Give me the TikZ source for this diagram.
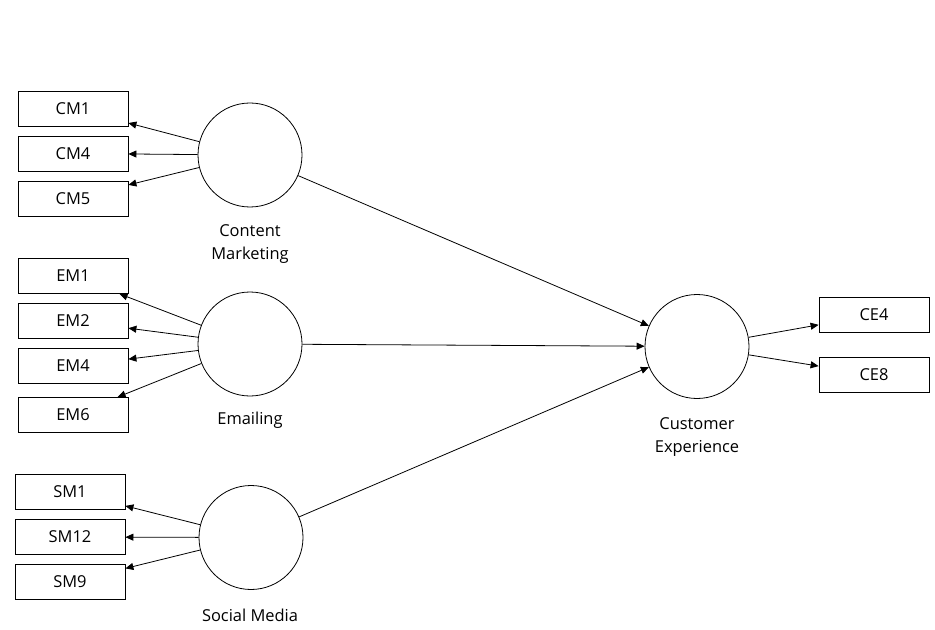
\documentclass[tikz,border=0pt]{standalone}
\usepackage{fontspec}
\setmainfont{Open Sans}
\usetikzlibrary{arrows.meta}

\begin{document}
\begin{tikzpicture}[x=1bp,y=-1bp]
\useasboundingbox (0,0) rectangle (935,630);
\begin{scope}[every node/.style={draw=black,fill=white,line width=0.8bp,font=\fontsize{16.5}{20}\selectfont}]
    \node (cm) at (250, 155) [shape=circle,minimum size=104bp,inner sep=0pt] {};
    \node (em) at (250, 344) [shape=circle,minimum size=104bp,inner sep=0pt] {};
    \node (sm) at (251, 537.5) [shape=circle,minimum size=104bp,inner sep=0pt] {};
    \node (ce) at (697, 346.5) [shape=circle,minimum size=104bp,inner sep=0pt] {};

    \node (cm1) at (73, 108.5) [shape=rectangle,minimum width=110bp,minimum height=35bp,inner sep=0pt] {CM1};
    \node (cm4) at (73, 153.5) [shape=rectangle,minimum width=110bp,minimum height=35bp,inner sep=0pt] {CM4};
    \node (cm5) at (73, 198.5) [shape=rectangle,minimum width=110bp,minimum height=35bp,inner sep=0pt] {CM5};

    \node (em1) at (73, 276) [shape=rectangle,minimum width=110bp,minimum height=35bp,inner sep=0pt] {EM1};
    \node (em2) at (73, 321) [shape=rectangle,minimum width=110bp,minimum height=35bp,inner sep=0pt] {EM2};
    \node (em4) at (73, 366) [shape=rectangle,minimum width=110bp,minimum height=35bp,inner sep=0pt] {EM4};
    \node (em6) at (73, 415) [shape=rectangle,minimum width=110bp,minimum height=35bp,inner sep=0pt] {EM6};

    \node (sm1) at (70, 492) [shape=rectangle,minimum width=110bp,minimum height=35bp,inner sep=0pt] {SM1};
    \node (sm12) at (70, 537) [shape=rectangle,minimum width=110bp,minimum height=35bp,inner sep=0pt] {SM12};
    \node (sm9) at (70, 582) [shape=rectangle,minimum width=110bp,minimum height=35bp,inner sep=0pt] {SM9};

    \node (ce4) at (874, 315) [shape=rectangle,minimum width=110bp,minimum height=35bp,inner sep=0pt] {CE4};
    \node (ce8) at (874, 375) [shape=rectangle,minimum width=110bp,minimum height=35bp,inner sep=0pt] {CE8};
\end{scope}

\begin{scope}[every node/.style={align=center,font=\fontsize{16.5}{24}\selectfont}]
    \node (cmlabel) at (250, 244) {Content\\Marketing};
    \node (emlabel) at (250, 420) {Emailing};
    \node (smlabel) at (250, 615) {Social Media};
    \node (celabel) at (697, 437) {Customer\\Experience};
\end{scope}

\begin{scope}[>={Triangle[length=8bp,width=7bp]},
              every edge/.style={draw=black,line width=0.8bp}]
    \path [->] (cm) edge (cm1);
    \path [->] (cm) edge (cm4);
    \path [->] (cm) edge (cm5);

    \path [->] (em) edge (em1);
    \path [->] (em) edge (em2);
    \path [->] (em) edge (em4);
    \path [->] (em) edge (em6);

    \path [->] (sm) edge (sm1);
    \path [->] (sm) edge (sm12);
    \path [->] (sm) edge (sm9);

    \path [->] (cm) edge (ce);
    \path [->] (em) edge (ce);
    \path [->] (sm) edge (ce);

    \path [->] (ce) edge (ce4);
    \path [->] (ce) edge (ce8);
\end{scope}
\end{tikzpicture}
\end{document}
